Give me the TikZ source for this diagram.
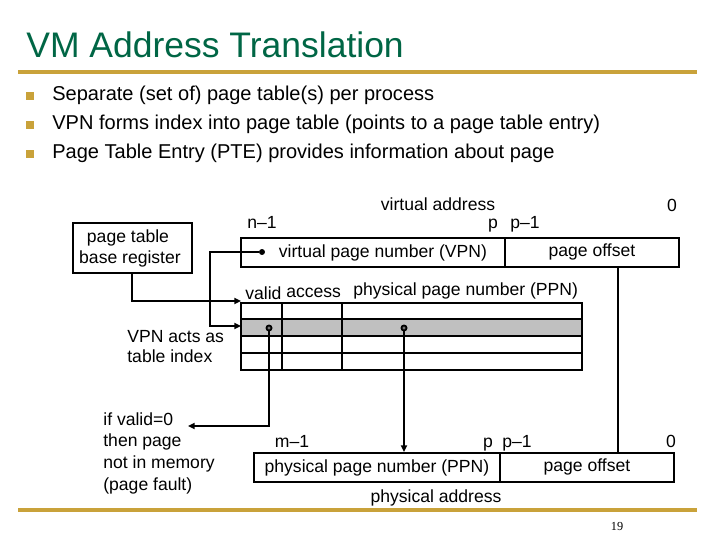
\documentclass[tikz,border=0pt]{standalone}
\usepackage{fontspec}
\setmainfont{Liberation Sans}
\newfontfamily\pagenumfont{Liberation Serif}
\usetikzlibrary{positioning,arrows.meta,calc}
\definecolor{ttlgreen}{HTML}{006645}
\definecolor{gold}{HTML}{C9A23A}
\definecolor{rowgray}{HTML}{C0C0C0}
\tikzset{
  field/.style={draw, line width=1.1pt, inner sep=0pt, minimum height=0.58cm, anchor=north west, font=\fontsize{10}{12}\selectfont},
  lbl/.style={anchor=base, inner sep=0pt, font=\fontsize{10}{12}\selectfont},
  lbll/.style={lbl, anchor=base west},
  bullet/.style={anchor=base west, inner sep=0pt, font=\fontsize{11.4}{13}\selectfont},
  conn/.style={-{Triangle[length=3.8pt,width=3.4pt]}, line width=1.1pt},
  tabline/.style={line width=1.1pt},
  pindot/.style={circle, draw, line width=1pt, fill=rowgray!60!black, inner sep=0pt, minimum size=2.9pt},
}

\begin{document}
\begin{tikzpicture}[x=0.02cm, y=-0.02cm]
  \useasboundingbox[fill=white] (0,0) rectangle (720,540);
  % title and bullets
  \node[anchor=base west, inner sep=0pt, text=ttlgreen, font=\fontsize{20.2}{24}\selectfont] (title) at (26,58) {VM Address Translation};
  \draw[gold, line width=1.8pt] (18,72) -- (697,72);
  \draw[gold, line width=1.8pt] (18,510) -- (697,510);
  \foreach \y/\txt [count=\i] in {101/{Separate (set of) page table(s) per process},
      130/{VPN forms index into page table (points to a page table entry)},
      159/{Page Table Entry (PTE) provides information about page}} {
    \fill[gold] (26,\y-1) rectangle ++(8,-8);
    \node[bullet] (b\i) at (52,\y) {\txt};
  }
  % page table base register
  \node[draw, line width=1.1pt, anchor=north west, minimum width=2.38cm, minimum height=1cm, inner sep=0pt] (ptbr) at (72,222) {};
  \node[lbl] at (128,243) {page table};
  \node[lbl] at (130,264) {base register};
  % virtual address
  \node[field, minimum width=5.28cm] (vpn) at (240,237) {\hspace*{0.4cm}virtual page number (VPN)};
  \node[field, minimum width=3.48cm] (voff) at (504,237) {page offset};
  \node[lbl] at (438,211) {virtual address};
  \node[lbl] at (672,212) {0};
  \node[lbl] at (262,229) {n--1};
  \node[lbl] at (493,229) {p};
  \node[lbl] at (525,229) {p--1};
  \node[circle, fill, inner sep=0pt, minimum size=3.4pt] (vpndot) at (262,252) {};
  % page table
  \fill[rowgray] (241,319) rectangle (582,336);
  \draw[tabline] (241,303) rectangle (582,370);
  \foreach \y in {319,336} \draw[tabline] (241,\y) -- (582,\y);
  \draw[line width=1.7pt] (241,353) -- (582,353);
  \foreach \x in {282,342} \draw[tabline] (\x,303) -- (\x,370);
  \node[lbll] at (245,300) {valid};
  \node[lbll] at (286,297.5) {access};
  \node[lbll] at (353,296) {physical page number (PPN)};
  \coordinate (rowtop) at (241,301);
  \coordinate (rowsel) at (241,326);
  \node[pindot] (vdot) at (269,328) {};
  \node[pindot] (pdot) at (404,328) {};
  % side notes
  \node[lbll] at (127,343) {VPN acts as};
  \node[lbll] at (127,363) {table index};
  \node[lbll] at (103,425) {if valid=0};
  \node[lbll] at (103,446) {then page};
  \node[lbll] at (103,468) {not in memory};
  \node[lbll] at (103,490) {(page fault)};
  \coordinate (fault) at (188,426);
  % physical address
  \node[field, minimum width=4.92cm] (ppn) at (253,452) {physical page number (PPN)};
  \node[field, minimum width=3.48cm] (poff) at (499,452) {page offset};
  \node[lbl] at (292,447) {m--1};
  \node[lbl] at (488,447) {p};
  \node[lbl] at (517,447) {p--1};
  \node[lbl] at (671,447) {0};
  \node[lbl] at (436,502) {physical address};
  \coordinate (offx) at (618,0);
  % connectors
  \draw[conn] (ptbr.south) |- (rowtop);
  \draw[conn] (vpndot) -- ++(-52,0) |- (rowsel);
  \draw[conn] (vdot) |- (fault);
  \draw[conn] (pdot) -- (pdot |- ppn.north);
  \draw[line width=1.6pt] (voff.south -| offx) -- (poff.north -| offx);
  \node[anchor=base, inner sep=0pt, font=\pagenumfont\fontsize{7}{8}\selectfont] (pg) at (617,530) {19};
\end{tikzpicture}
\end{document}
